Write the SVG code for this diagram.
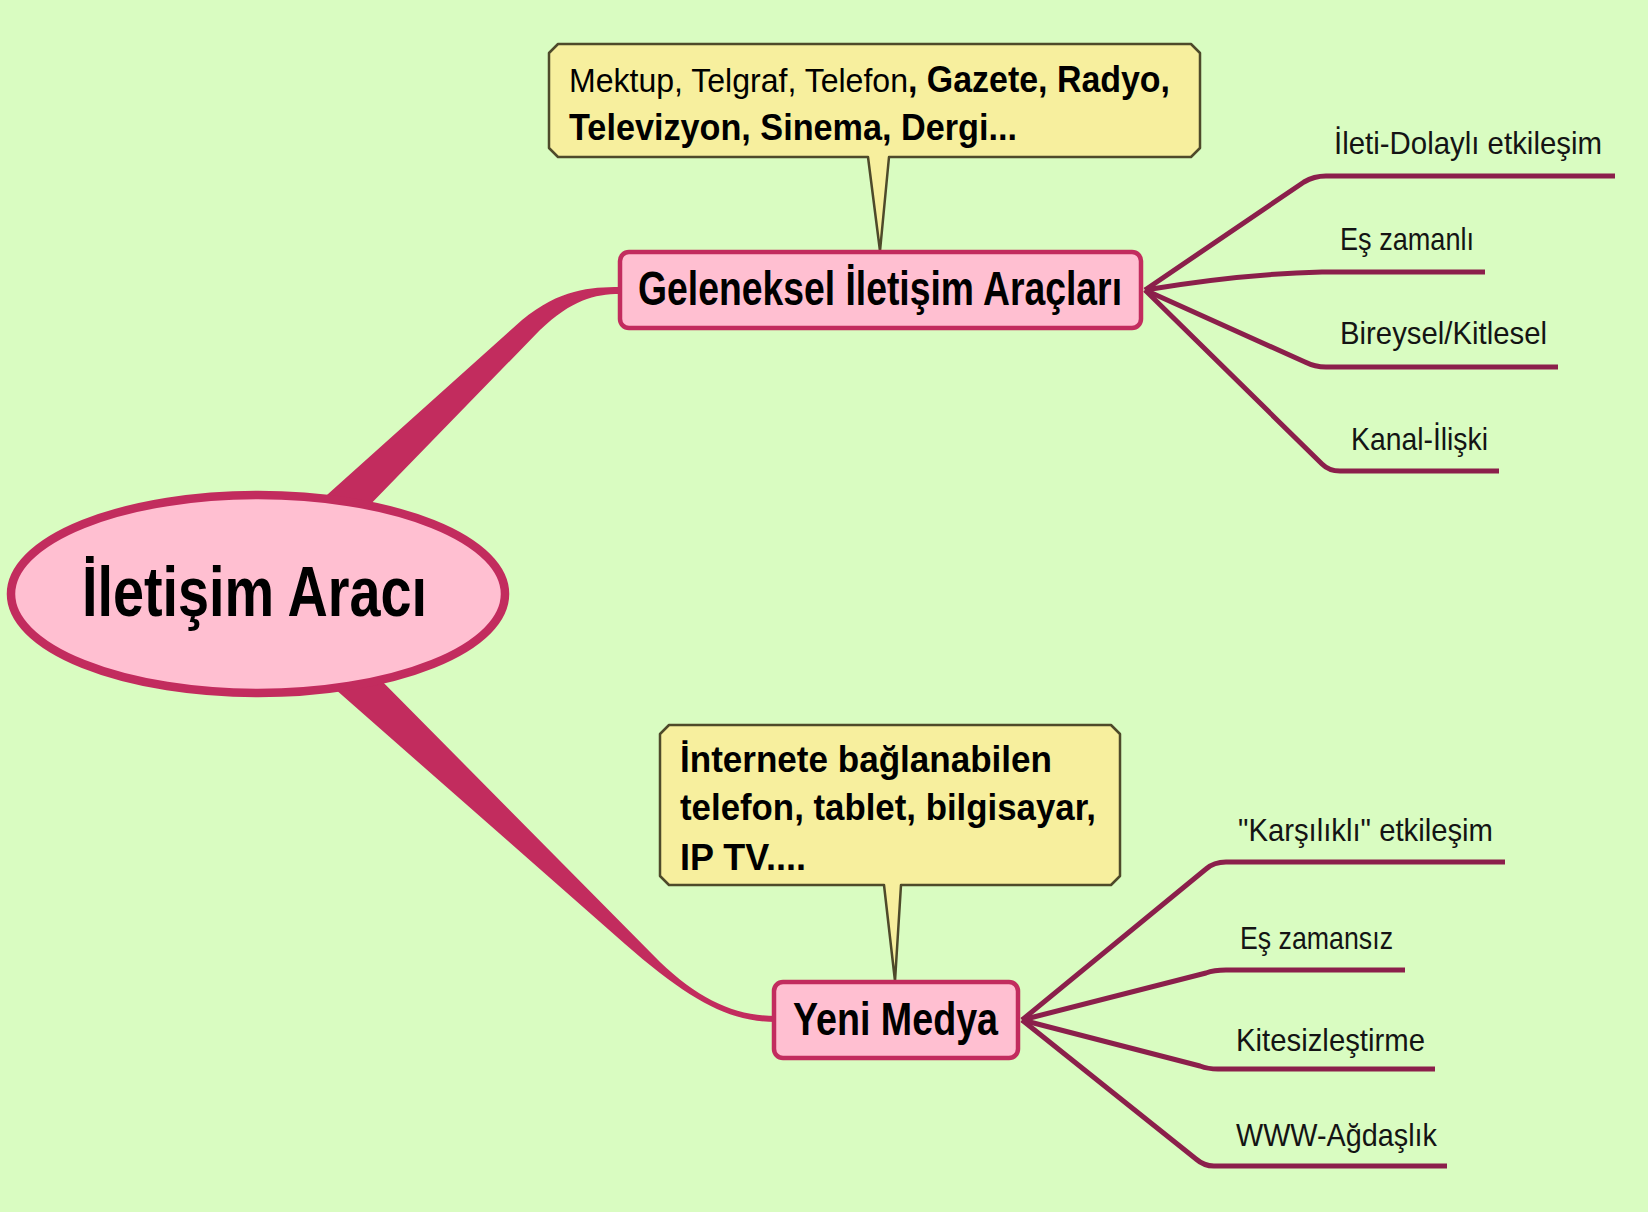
<svg xmlns="http://www.w3.org/2000/svg" width="1648" height="1212" viewBox="0 0 1648 1212">
<style>
.bg{fill:#d9fcc1}
.branch{fill:#c22c5e}
.leafline{fill:none;stroke:#8b1f4b;stroke-width:5;stroke-linejoin:round;stroke-linecap:butt}
.node{fill:#ffbfd1;stroke:#c22c5e;stroke-width:4.5}
.rootnode{fill:#ffbfd1;stroke:#c22c5e;stroke-width:8.5}
.callout{fill:#f7ef9e;stroke:#4e4a2a;stroke-width:2.5;stroke-linejoin:round}
.t{font-family:"Liberation Sans",Arial,sans-serif;fill:#000}
.b{font-weight:bold}
.leaf{font-family:"Liberation Sans",Arial,sans-serif;font-size:32px;fill:#141414}
</style>
<rect class="bg" x="0" y="0" width="1648" height="1212"/>
<g id="connectors">
  <path class="branch" d="M 318 503 L 522 320 C 560 289, 590 287, 620 287 L 620 294 C 594 294, 572 300, 540 330 L 362 513 Z"/>
  <path class="branch" d="M 318 674 L 625 944 C 690 1001, 730 1022, 776 1022 L 776 1016 C 735 1016, 700 1000, 660 962 L 366 665 Z"/>
  <path class="leafline" d="M 1145 290 L 1304 182 Q 1314 176 1326 176 L 1615 176"/>
  <path class="leafline" d="M 1145 290 Q 1240 274 1322 272 L 1485 272"/>
  <path class="leafline" d="M 1145 290 L 1305 362 Q 1315 367 1326 367 L 1558 367"/>
  <path class="leafline" d="M 1145 290 L 1322 464 Q 1329 471 1340 471 L 1499 471"/>
  <path class="leafline" d="M 1022 1020 L 1206 869 Q 1214 862 1226 862 L 1505 862"/>
  <path class="leafline" d="M 1022 1020 L 1206 973 Q 1214 970 1226 970 L 1405 970"/>
  <path class="leafline" d="M 1022 1020 L 1200 1066 Q 1208 1069 1218 1069 L 1435 1069"/>
  <path class="leafline" d="M 1022 1020 L 1196 1159 Q 1204 1166 1214 1166 L 1447 1166"/>
</g>
<g id="root">
  <ellipse class="rootnode" cx="258" cy="594" rx="247" ry="99"/>
  <text class="t b" x="82" y="616" font-size="70" textLength="345" lengthAdjust="spacingAndGlyphs">İletişim Aracı</text>
</g>
<g id="callout-geleneksel">
  <path class="callout" d="M 558 44 L 1191 44 L 1200 53 L 1200 148 L 1191 157 L 889 157 L 880 251 L 868 157 L 558 157 L 549 148 L 549 53 Z"/>
  <text class="t" x="569" y="92" font-size="34" textLength="601" lengthAdjust="spacingAndGlyphs">Mektup, Telgraf, Telefon<tspan class="b" font-size="36">, Gazete, Radyo,</tspan></text>
  <text class="t b" x="569" y="140" font-size="36" textLength="448" lengthAdjust="spacingAndGlyphs">Televizyon, Sinema, Dergi...</text>
</g>
<g id="geleneksel">
  <rect class="node" x="620" y="252" width="521" height="76" rx="9"/>
  <text class="t b" x="638" y="305" font-size="48" textLength="484" lengthAdjust="spacingAndGlyphs">Geleneksel İletişim Araçları</text>
</g>
<g id="callout-yenimedya">
  <path class="callout" d="M 669 725 L 1111 725 L 1120 734 L 1120 876 L 1111 885 L 901 885 L 895 981 L 884 885 L 669 885 L 660 876 L 660 734 Z"/>
  <text class="t b" x="680" y="772" font-size="36" textLength="372" lengthAdjust="spacingAndGlyphs">İnternete bağlanabilen</text>
  <text class="t b" x="680" y="820" font-size="36" textLength="416" lengthAdjust="spacingAndGlyphs">telefon, tablet, bilgisayar,</text>
  <text class="t b" x="680" y="870" font-size="36" textLength="126" lengthAdjust="spacingAndGlyphs">IP TV....</text>
</g>
<g id="yenimedya">
  <rect class="node" x="774" y="982" width="244" height="76" rx="9"/>
  <text class="t b" x="793" y="1035" font-size="46" textLength="205" lengthAdjust="spacingAndGlyphs">Yeni Medya</text>
</g>
<g id="leaf-ileti"><text class="leaf" x="1334" y="154" textLength="268" lengthAdjust="spacingAndGlyphs">İleti-Dolaylı etkileşim</text></g>
<g id="leaf-eszamanli"><text class="leaf" x="1340" y="250" textLength="134" lengthAdjust="spacingAndGlyphs">Eş zamanlı</text></g>
<g id="leaf-bireysel"><text class="leaf" x="1340" y="344" textLength="207" lengthAdjust="spacingAndGlyphs">Bireysel/Kitlesel</text></g>
<g id="leaf-kanal"><text class="leaf" x="1351" y="450" textLength="137" lengthAdjust="spacingAndGlyphs">Kanal-İlişki</text></g>
<g id="leaf-karsilikli"><text class="leaf" x="1238" y="841" textLength="255" lengthAdjust="spacingAndGlyphs">"Karşılıklı" etkileşim</text></g>
<g id="leaf-eszamansiz"><text class="leaf" x="1240" y="949" textLength="153" lengthAdjust="spacingAndGlyphs">Eş zamansız</text></g>
<g id="leaf-kitesiz"><text class="leaf" x="1236" y="1051" textLength="189" lengthAdjust="spacingAndGlyphs">Kitesizleştirme</text></g>
<g id="leaf-www"><text class="leaf" x="1236" y="1146" textLength="201" lengthAdjust="spacingAndGlyphs">WWW-Ağdaşlık</text></g>
</svg>
